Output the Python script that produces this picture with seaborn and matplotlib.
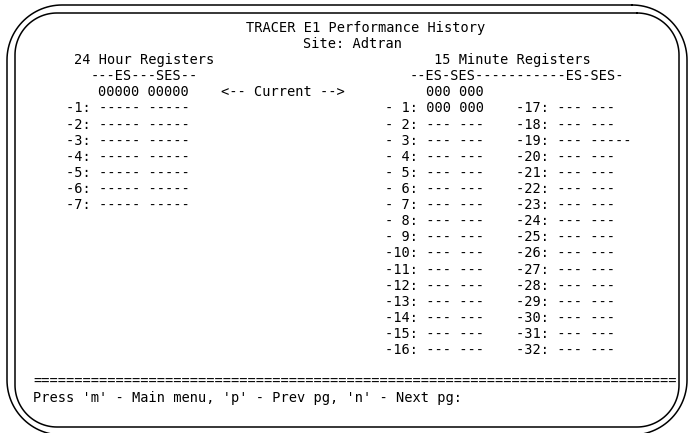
import numpy as np
import matplotlib
matplotlib.use("Agg")
import matplotlib.pyplot as plt
import seaborn as sns

# ---------------------------
# Screen content
# ---------------------------
title = "TRACER E1 Performance History"
site = "Site: Adtran"
hour_header = "24 Hour Registers"
hour_cols = "---ES---SES--"
hour_current = "00000 00000"
current_tag = "<-- Current -->"
min_header = "15 Minute Registers"
min_cols = "--ES-SES-----------ES-SES-"
min_current = "000 000"

hour_labels = ["-1:", "-2:", "-3:", "-4:", "-5:", "-6:", "-7:"]
hour_es = ["-----", "-----", "-----", "-----", "-----", "-----", "-----"]
hour_ses = ["-----", "-----", "-----", "-----", "-----", "-----", "-----"]

min_labels_a = ["- 1:", "- 2:", "- 3:", "- 4:", "- 5:", "- 6:", "- 7:", "- 8:",
                "- 9:", "-10:", "-11:", "-12:", "-13:", "-14:", "-15:", "-16:"]
min_es_a = ["000", "---", "---", "---", "---", "---", "---", "---",
            "---", "---", "---", "---", "---", "---", "---", "---"]
min_ses_a = ["000", "---", "---", "---", "---", "---", "---", "---",
             "---", "---", "---", "---", "---", "---", "---", "---"]

min_labels_b = ["-17:", "-18:", "-19:", "-20:", "-21:", "-22:", "-23:", "-24:",
                "-25:", "-26:", "-27:", "-28:", "-29:", "-30:", "-31:", "-32:"]
min_es_b = ["---", "---", "---", "---", "---", "---", "---", "---",
            "---", "---", "---", "---", "---", "---", "---", "---"]
min_ses_b = ["---", "---", "-----", "---", "---", "---", "---", "---",
             "---", "---", "---", "---", "---", "---", "---", "---"]

footer = "Press 'm' - Main menu, 'p' - Prev pg, 'n' - Next pg:"

# ---------------------------
# Terminal grid (pixels)
# ---------------------------
W, H = 691, 433
CHAR_W = 8.18
LINE_H = 16.1
X0, Y0 = 33, 28
FS = CHAR_W / 0.602 * 0.72  # DejaVu Sans Mono advance is 0.602 em

sns.set_theme(style="white")
plt.rcParams["font.family"] = ["DejaVu Sans Mono"]

fig = plt.figure(figsize=(W / 100, H / 100), dpi=100)
ax = fig.add_axes([0, 0, 1, 1])
ax.set_xlim(0, W)
ax.set_ylim(H, 0)
ax.axis("off")


def put(col, line, s):
    ax.text(X0 + col * CHAR_W, Y0 + line * LINE_H, s, ha="left", va="center",
            fontsize=FS, color="black")


def frame(x0, y0, x1, y1, r):
    # rounded rectangle as a plain polyline (y grows downward here)
    t = np.linspace(0, np.pi / 2, 30)
    xs, ys = [], []
    for cx, cy, a0 in [(x1 - r, y0 + r, -np.pi / 2), (x1 - r, y1 - r, 0),
                       (x0 + r, y1 - r, np.pi / 2), (x0 + r, y0 + r, np.pi)]:
        xs += list(cx + r * np.cos(a0 + t))
        ys += list(cy + r * np.sin(a0 + t))
    xs.append(xs[0])
    ys.append(ys[0])
    ax.plot(xs, ys, color="black", lw=1.1, solid_joinstyle="round")


# double rounded frame (outer one runs off the bottom edge)
frame(7, 5, 687, 435, 55)
frame(15, 13, 679, 427, 42)

put(26, 0, title)
put(33, 1, site)
put(5, 2, hour_header)
put(49, 2, min_header)
put(7, 3, hour_cols)
put(46, 3, min_cols)
put(8, 4, hour_current)
put(23, 4, current_tag)
put(48, 4, min_current)

for i, lab in enumerate(hour_labels):
    put(4, 5 + i, f"{lab} {hour_es[i]} {hour_ses[i]}")

for i, lab in enumerate(min_labels_a):
    put(43, 5 + i, f"{lab} {min_es_a[i]} {min_ses_a[i]}")
    put(59, 5 + i, f"{min_labels_b[i]} {min_es_b[i]} {min_ses_b[i]}")

put(0, 22, "=" * 78)
put(0, 23, footer)

fig.savefig("out.png", dpi=100)
plt.close(fig)
